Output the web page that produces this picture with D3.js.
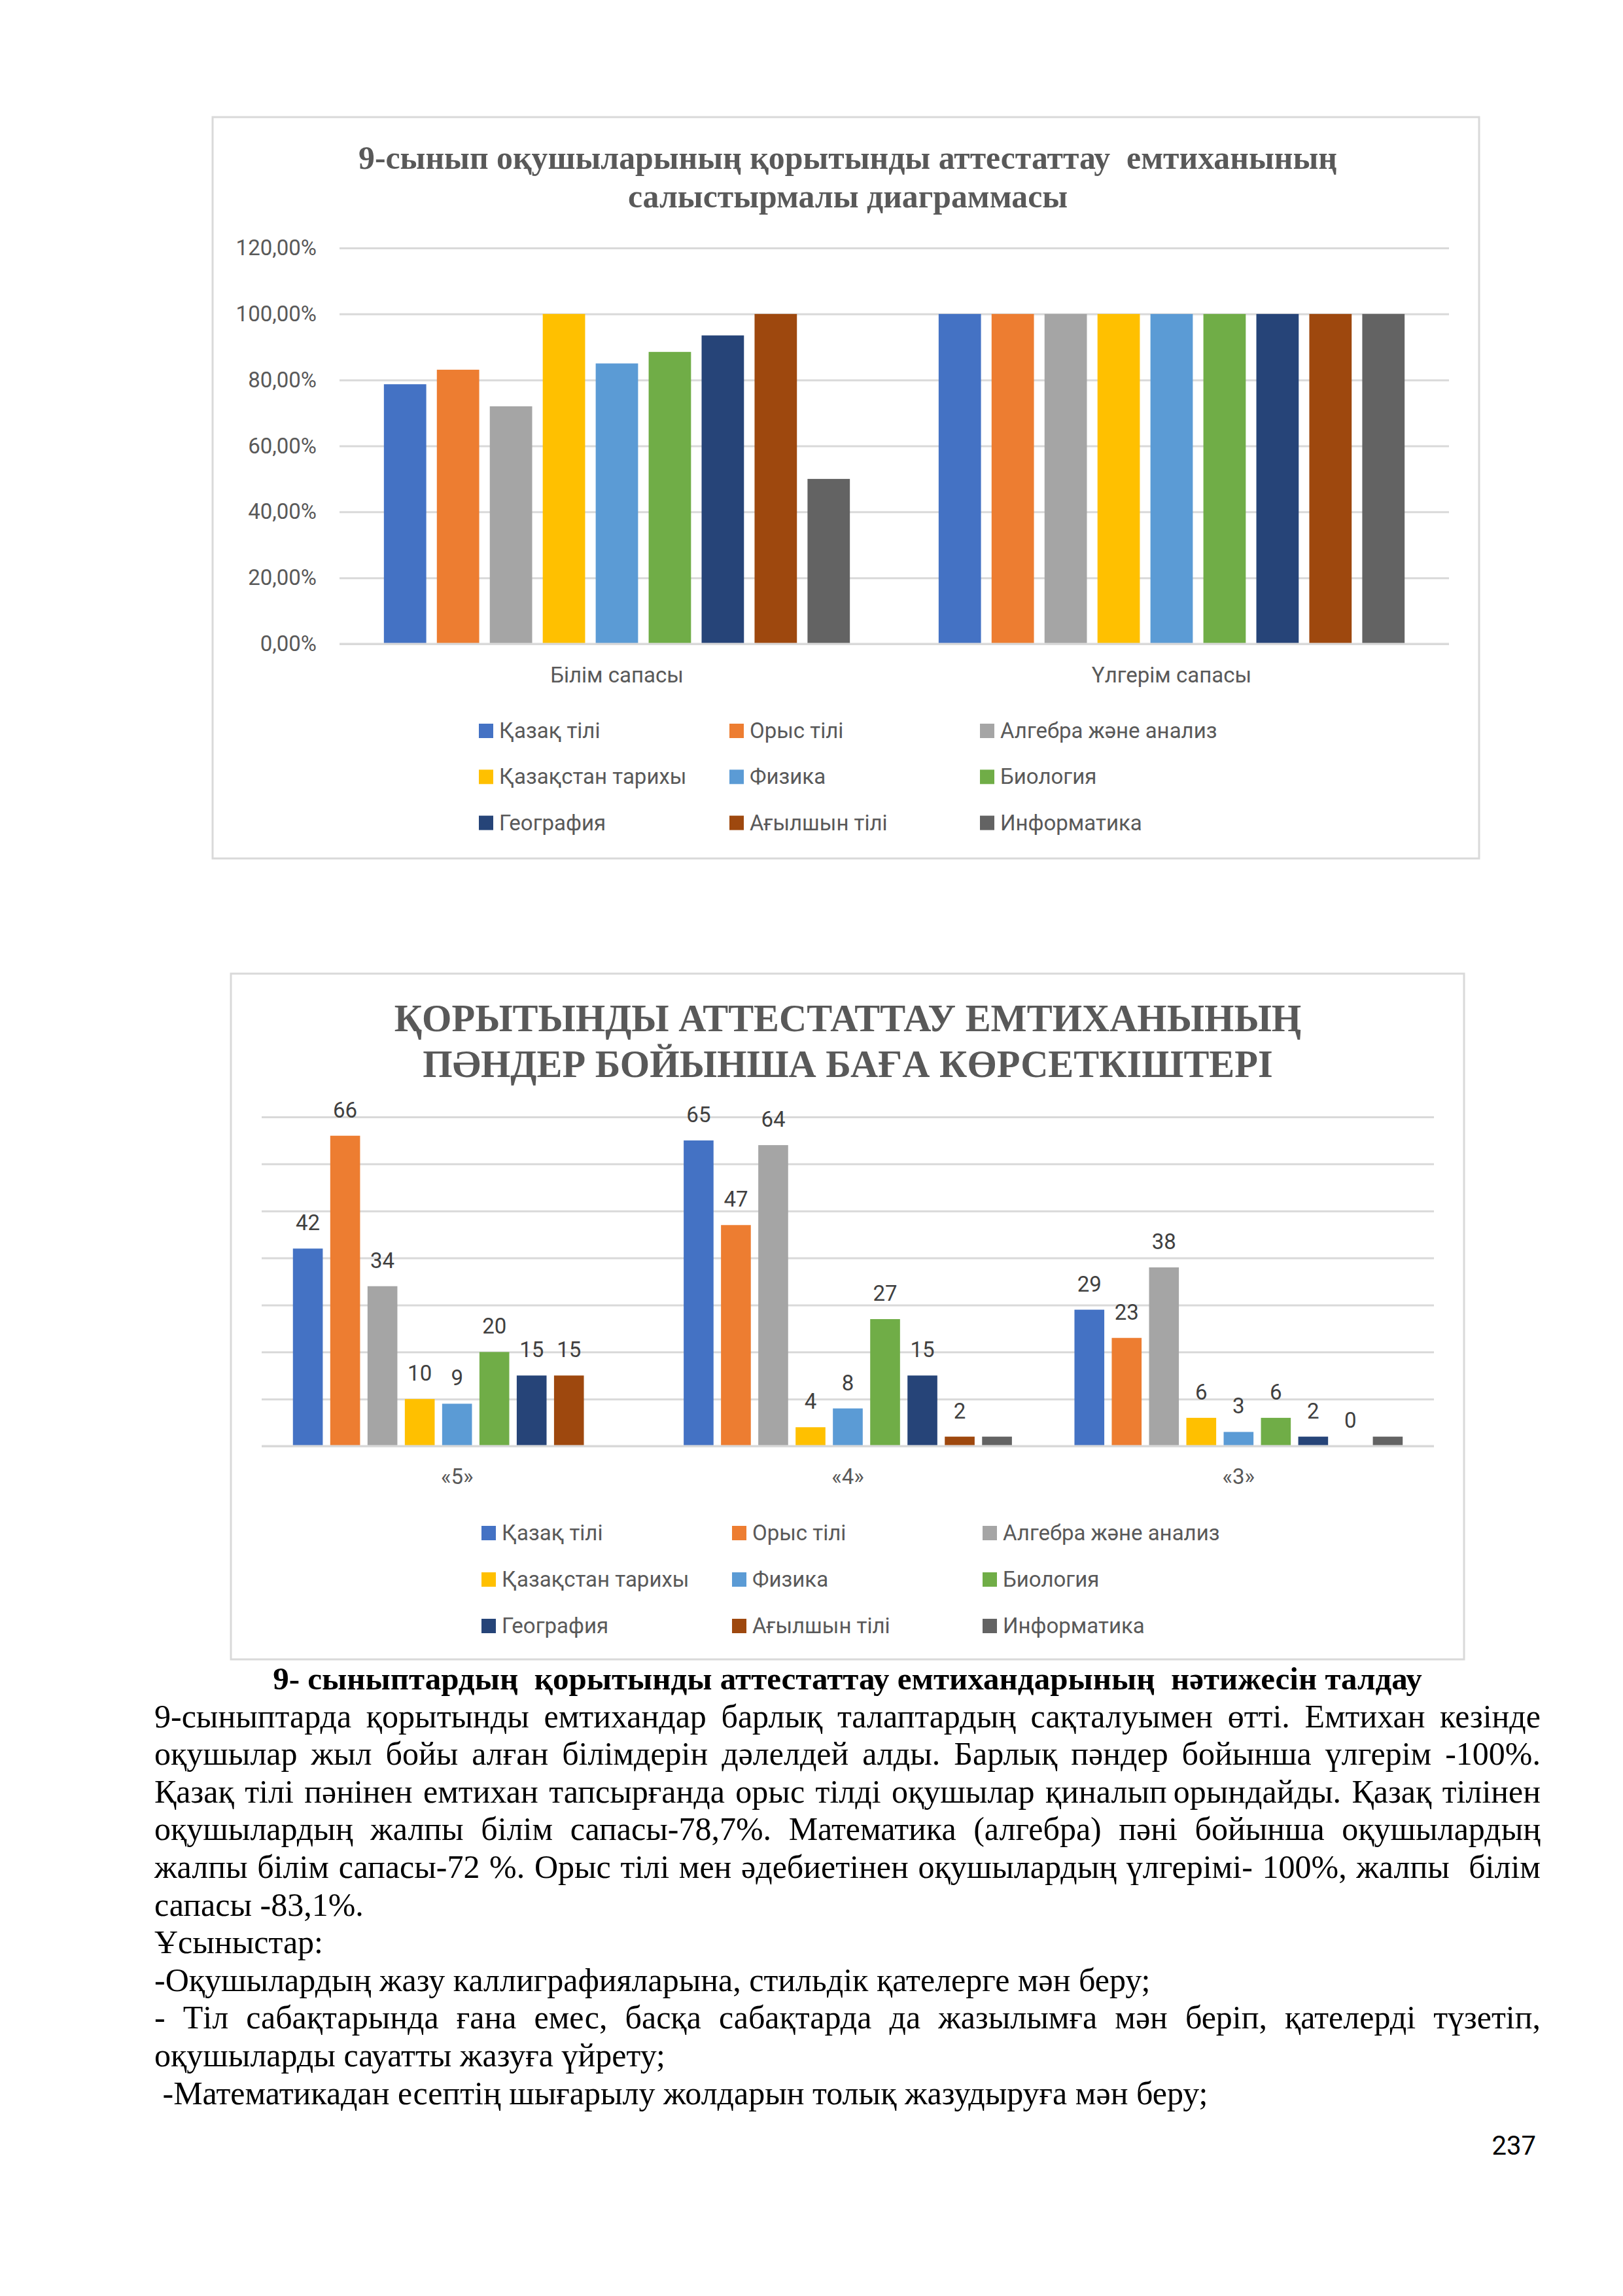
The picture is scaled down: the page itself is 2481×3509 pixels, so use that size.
<!DOCTYPE html>
<html>
<head>
<meta charset="utf-8">
<script src="https://cdn.jsdelivr.net/npm/d3@7"></script>
<style>
  body { margin: 0; background: #fff; }
  svg text { white-space: pre; }
</style>
</head>
<body>
<script>
// ---- data ----
const subjects = ['Қазақ тілі', 'Орыс тілі', 'Алгебра және анализ', 'Қазақстан тарихы', 'Физика',
  'Биология', 'География', 'Ағылшын тілі', 'Информатика'];
const subjectColors = ['#4472C4', '#ED7D31', '#A5A5A5', '#FFC000', '#5B9BD5',
  '#70AD47', '#264478', '#9E480E', '#636363'];

const qualityCategories = ['Білім сапасы', 'Үлгерім сапасы'];
const knowledgeQuality = [0.787, 0.831, 0.72, 1.0, 0.85, 0.885, 0.935, 1.0, 0.5];
const progressQuality = [1.0, 1.0, 1.0, 1.0, 1.0, 1.0, 1.0, 1.0, 1.0];
const qualityTicks = [0, 0.2, 0.4, 0.6, 0.8, 1.0, 1.2];

const gradeCategories = ['«5»', '«4»', '«3»'];
const grade5 = [42, 66, 34, 10, 9, 20, 15, 15, 0];
const grade4 = [65, 47, 64, 4, 8, 27, 15, 2, 2];
const grade3 = [29, 23, 38, 6, 3, 6, 2, 0, 2];
const gradeTicks = [0, 10, 20, 30, 40, 50, 60, 70];
// data labels are switched off for the last series (Информатика)
const gradeLabelled = [true, true, true, true, true, true, true, true, false];

const title1 = ['9-сынып оқушыларының қорытынды аттестаттау  емтиханының', 'салыстырмалы диаграммасы'];
const title2 = ['ҚОРЫТЫНДЫ АТТЕСТАТТАУ ЕМТИХАНЫНЫҢ', 'ПӘНДЕР БОЙЫНША БАҒА КӨРСЕТКІШТЕРІ'];

const reportHeading = '9- сыныптардың  қорытынды аттестаттау емтихандарының  нәтижесін талдау';
const reportLines = [
  ['justify', '9-сыныптарда қорытынды емтихандар барлық талаптардың сақталуымен өтті. Емтихан кезінде'],
  ['justify', 'оқушылар жыл бойы алған білімдерін дәлелдей алды. Барлық пәндер бойынша үлгерім -100%.'],
  ['justify', 'Қазақ тілі пәнінен емтихан тапсырғанда орыс тілді оқушылар қиналып\u2009орындайды. Қазақ тілінен'],
  ['justify', 'оқушылардың жалпы білім сапасы-78,7%. Математика (алгебра) пәні бойынша оқушылардың'],
  ['justify', 'жалпы білім сапасы-72 %. Орыс тілі мен әдебиетінен оқушылардың үлгерімі- 100%, жалпы  білім'],
  ['left', 'сапасы -83,1%.'],
  ['left', 'Ұсыныстар:'],
  ['left', '-Оқушылардың жазу каллиграфияларына, стильдік қателерге мән беру;'],
  ['justify', '- Тіл сабақтарында ғана емес, басқа сабақтарда да жазылымға мән беріп, қателерді түзетіп,'],
  ['left', 'оқушыларды сауатты жазуға үйрету;'],
  ['left', ' -Математикадан есептің шығарылу жолдарын толық жазудыруға мән беру;']
];
const pageNumber = '237';

// ---- page ----
const W = 2481, H = 3509;
const SANS = 'Roboto, "Noto Sans", sans-serif';
const SERIF = '"Liberation Serif", "Times New Roman", serif';

const svg = d3.select('body').append('svg')
  .attr('width', W).attr('height', H)
  .attr('viewBox', `0 0 ${W} ${H}`);
svg.append('rect').attr('width', W).attr('height', H).attr('fill', '#fff');

const ruLocale = d3.formatLocale({decimal: ',', thousands: ' ', grouping: [3], currency: ['', '']});
const pct = ruLocale.format('.2%');

// scale font-size so the first text of the selection is as wide as in the picture
function fitWidth(sel, target) {
  const natural = sel.nodes()[0].getComputedTextLength();
  sel.attr('font-size', 50 * target / natural);
}

function drawChart(cfg) {
  const g = svg.append('g');
  const [fx, fy, fw, fh] = cfg.frame;
  g.append('rect')
    .attr('x', fx).attr('y', fy).attr('width', fw).attr('height', fh)
    .attr('fill', '#fff').attr('stroke', '#d9d9d9').attr('stroke-width', 3);

  const title = g.append('g')
    .attr('font-family', SERIF).attr('font-weight', 'bold')
    .attr('fill', '#595959').attr('text-anchor', 'middle');
  const tl = title.selectAll('text').data(cfg.title).join('text')
    .attr('x', cfg.titleX)
    .attr('y', (d, i) => cfg.titleY[i])
    .attr('font-size', 50)
    .text(d => d);
  fitWidth(tl, cfg.titleWidth);

  const x0 = d3.scaleBand().domain(cfg.categories).range(cfg.xRange)
    .paddingInner(0.16).paddingOuter(0.08);
  const x1 = d3.scaleBand().domain(subjects).range([0, x0.bandwidth()]).paddingInner(0.2);
  const y = d3.scaleLinear().domain(cfg.yDomain).range(cfg.yRange);
  const plotW = cfg.xRange[1] - cfg.xRange[0];

  const ax = g.append('g')
    .attr('transform', `translate(${cfg.xRange[0]},0)`)
    .call(d3.axisLeft(y).tickValues(cfg.ticks).tickSize(-plotW).tickPadding(35).tickFormat(cfg.tickFormat));
  ax.select('.domain').remove();
  ax.attr('font-family', SANS).attr('font-size', 33);
  ax.selectAll('line').attr('stroke', '#d9d9d9').attr('stroke-width', 3);
  ax.selectAll('text').attr('fill', '#595959');

  const groups = g.selectAll('g.cat').data(cfg.categories).join('g')
    .attr('class', 'cat')
    .attr('transform', c => `translate(${x0(c)},0)`);

  groups.selectAll('rect')
    .data((c, ci) => subjects.map((s, si) => ({s, si, v: cfg.values[ci][si]})))
    .join('rect')
    .attr('x', d => x1(d.s))
    .attr('width', x1.bandwidth())
    .attr('y', d => y(d.v))
    .attr('height', d => y(0) - y(d.v))
    .attr('fill', d => subjectColors[d.si]);

  g.append('line')
    .attr('x1', cfg.xRange[0]).attr('x2', cfg.xRange[1])
    .attr('y1', y(0)).attr('y2', y(0))
    .attr('stroke', '#d9d9d9').attr('stroke-width', 3);

  if (cfg.labelled) {
    groups.selectAll('text.val')
      .data((c, ci) => subjects.map((s, si) => ({s, si, v: cfg.values[ci][si]})).filter(d => cfg.labelled[d.si]))
      .join('text')
      .attr('class', 'val')
      .attr('x', d => x1(d.s) + x1.bandwidth() / 2)
      .attr('y', d => y(d.v) - 28)
      .attr('text-anchor', 'middle')
      .attr('font-family', SANS).attr('font-size', 33)
      .attr('fill', '#404040')
      .text(d => d.v);
  }

  g.selectAll('text.catlabel').data(cfg.categories).join('text')
    .attr('class', 'catlabel')
    .attr('x', c => x0(c) + x0.bandwidth() / 2)
    .attr('y', cfg.catLabelY)
    .attr('text-anchor', 'middle')
    .attr('font-family', SANS).attr('font-size', 33)
    .attr('fill', '#595959')
    .text(c => c);

  const leg = g.selectAll('g.leg').data(subjects).join('g')
    .attr('class', 'leg')
    .attr('transform', (s, i) => `translate(${cfg.legend.x + (i % 3) * cfg.legend.colStep},${cfg.legend.y + Math.floor(i / 3) * cfg.legend.rowStep})`);
  leg.append('rect')
    .attr('x', 0).attr('y', -11).attr('width', 22).attr('height', 22)
    .attr('fill', (s, i) => subjectColors[i]);
  leg.append('text')
    .attr('x', 31).attr('y', 11)
    .attr('font-family', SANS).attr('font-size', 33)
    .attr('fill', '#595959')
    .text(s => s);
}

drawChart({
  frame: [325, 179, 1936, 1133],
  title: title1, titleX: 1296, titleY: [258, 317], titleWidth: 1496,
  categories: qualityCategories,
  values: [knowledgeQuality, progressQuality],
  xRange: [519, 2215], yRange: [984, 379], yDomain: [0, 1.2],
  ticks: qualityTicks, tickFormat: pct,
  catLabelY: 1043,
  legend: {x: 732, colStep: 383, y: 1117, rowStep: 70.3}
});

drawChart({
  frame: [353, 1488, 1885, 1048],
  title: title2, titleX: 1296, titleY: [1576, 1646], titleWidth: 1387,
  categories: gradeCategories,
  values: [grade5, grade4, grade3],
  xRange: [400, 2192], yRange: [2210, 1707], yDomain: [0, 70],
  ticks: gradeTicks, tickFormat: () => '',
  labelled: gradeLabelled,
  catLabelY: 2268,
  legend: {x: 736, colStep: 383, y: 2343, rowStep: 71}
});

// ---- report text ----
const textLeft = 236, textRight = 2355, lineH = 57.6, firstBase = 2582;
const body = svg.append('g').attr('font-family', SERIF).attr('font-size', 50).attr('fill', '#000');

const heading = body.append('text')
  .attr('x', (textLeft + textRight) / 2).attr('y', firstBase)
  .attr('text-anchor', 'middle').attr('font-weight', 'bold')
  .attr('font-size', 50)
  .text(reportHeading);
fitWidth(heading, 1757);

reportLines.forEach(([align, line], i) => {
  const yb = firstBase + (i + 1) * lineH;
  const t = body.append('text').attr('y', yb);
  if (align === 'left') {
    t.attr('x', textLeft).text(line);
    return;
  }
  // justified: spread the spare room evenly over the gaps between words
  const words = line.split(' ');
  const spans = words.map(w => t.append('tspan').text(w));
  const widths = spans.map((s, k) => words[k] ? s.node().getComputedTextLength() : 0);
  const gap = (textRight - textLeft - d3.sum(widths)) / (words.length - 1);
  let x = textLeft;
  spans.forEach((s, k) => {
    if (words[k]) s.attr('x', x);
    else s.remove();
    x += widths[k] + gap;
  });
});

svg.append('text')
  .attr('x', 2348).attr('y', 3293)
  .attr('text-anchor', 'end')
  .attr('font-family', SANS).attr('font-size', 40)
  .attr('fill', '#000')
  .text(pageNumber);
</script>
</body>
</html>
